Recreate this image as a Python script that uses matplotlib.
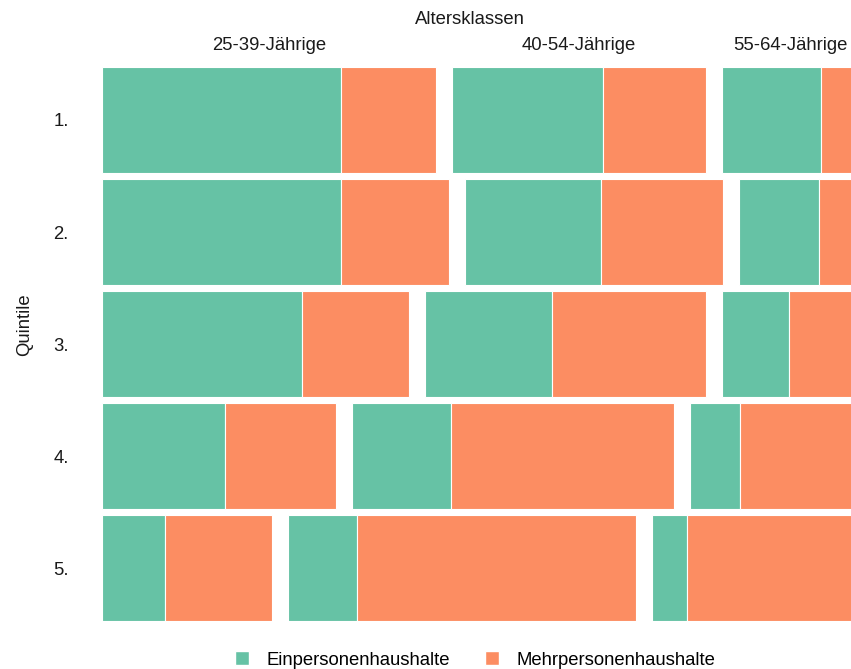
import matplotlib.pyplot as plt
from matplotlib.patches import Patch

plt.rcParams["font.family"] = ["Liberation Sans", "DejaVu Sans"]

quintiles = ["1.", "2.", "3.", "4.", "5."]
age_groups = ["25-39-Jährige", "40-54-Jährige", "55-64-Jährige"]
household_types = ["Einpersonenhaushalte", "Mehrpersonenhaushalte"]

# share of each age class within a quintile
age_share = [
    [0.461, 0.351, 0.188],
    [0.479, 0.356, 0.165],
    [0.424, 0.388, 0.188],
    [0.323, 0.445, 0.232],
    [0.235, 0.481, 0.284],
]
# share of single-person households within each age class
single_share = [
    [0.715, 0.596, 0.730],
    [0.689, 0.530, 0.677],
    [0.650, 0.452, 0.495],
    [0.528, 0.309, 0.298],
    [0.372, 0.197, 0.170],
]

colors = ["#66C2A5", "#FC8D62"]
gap = 16 / 756
usable = 1 - 2 * gap
bar_h = 0.945

fig = plt.figure(figsize=(8.51, 6.69), dpi=100)
ax = fig.add_axes([102 / 851, 47.7 / 669, 756 / 851, 554.3 / 669])

top_centers = []
for row, (shares, singles) in enumerate(zip(age_share, single_share)):
    left = 0.0
    for j, (s, p) in enumerate(zip(shares, singles)):
        w = s * usable
        ax.barh(row, w * p, left=left, height=bar_h, color=colors[0],
                edgecolor="white", linewidth=0.8)
        ax.barh(row, w * (1 - p), left=left + w * p, height=bar_h, color=colors[1],
                edgecolor="white", linewidth=0.8)
        if row == 0:
            top_centers.append(left + w / 2)
        left += w + gap

ax.set_xlim(0, 1)
ax.set_ylim(len(quintiles) - 1 + bar_h / 2, -bar_h / 2)
ax.set_yticks(range(len(quintiles)))
ax.set_yticklabels(quintiles, fontsize=13.3, color="#1a1a1a")
ax.set_xticks([])
ax.tick_params(axis="y", length=0, pad=24)
for sp in ax.spines.values():
    sp.set_visible(False)

for c, name in zip(top_centers, age_groups):
    ax.text(c, 1 + 22 / 554.3, name, transform=ax.get_xaxis_transform(),
            ha="center", va="center", fontsize=13.3, color="#1a1a1a")

fig.text(470 / 851, 1 - 20 / 669, "Altersklassen", ha="center", va="center",
         fontsize=13.3, color="#1a1a1a")
fig.text(25 / 851, 1 - 325 / 669, "Quintile", rotation=90, ha="center", va="center",
         fontsize=13.3, color="#1a1a1a")

handles = [Patch(facecolor=c, edgecolor="white", label=l) for c, l in zip(colors, household_types)]
fig.legend(handles=handles, loc="center", bbox_to_anchor=(475 / 851, 9 / 669), ncol=2,
           frameon=False, fontsize=13.3, handlelength=0.75, handleheight=0.75,
           handletextpad=0.95, columnspacing=1.9)

fig.savefig("out.png", dpi=100)
